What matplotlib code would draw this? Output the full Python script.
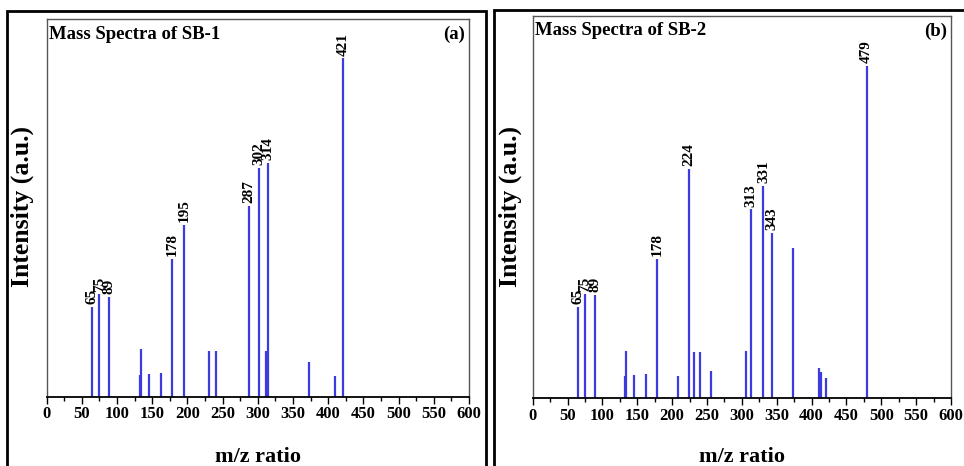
import numpy as np
import matplotlib
matplotlib.use("Agg")
import matplotlib.pyplot as plt
from matplotlib.patches import Rectangle

plt.rcParams['font.family'] = ['Liberation Serif', 'DejaVu Serif']
plt.rcParams['font.weight'] = 'bold'

# SB-1 peaks (m/z, relative intensity)
sb1_mz = [65, 75, 89, 132, 134, 146, 162, 178, 195, 231, 240, 287, 302, 311, 314, 372, 410, 421]
sb1_int = [23.8, 27.1, 26.5, 5.7, 12.5, 6.0, 6.2, 36.4, 45.4, 12.1, 12.0, 50.6, 60.6, 12.2, 62.0, 9.3, 5.5, 89.6]
sb1_labels = [65, 75, 89, 178, 195, 287, 302, 314, 421]

# SB-2 peaks
sb2_mz = [65, 75, 89, 132, 134, 146, 162, 178, 208, 224, 232, 240, 256, 306, 313, 331, 343, 374, 410, 414, 420, 479]
sb2_int = [24.0, 27.2, 27.0, 5.9, 12.5, 6.1, 6.3, 36.4, 5.8, 60.0, 12.2, 12.0, 7.2, 12.3, 49.4, 55.5, 43.2, 39.2, 7.8, 7.0, 5.4, 87.0]
sb2_labels = [65, 75, 89, 178, 224, 313, 331, 343, 479]

xticks = np.arange(0, 601, 50)
line_col = '#3b3be0'

fig = plt.figure(figsize=(9.64, 4.66), dpi=100)

# outer frames around each panel
fig.patches.append(Rectangle((0.0073, -0.05), 0.497, 0.9764 + 0.05, transform=fig.transFigure,
                             fill=False, edgecolor='black', linewidth=2.0))
fig.patches.append(Rectangle((0.5124, -0.05), 0.50, 0.9785 + 0.05, transform=fig.transFigure,
                             fill=False, edgecolor='black', linewidth=2.0))

ax1 = fig.add_axes([0.0484, 0.1487, 0.4381, 0.8105])
ax2 = fig.add_axes([0.5526, 0.1453, 0.4339, 0.8204])


def draw_panel(ax, mz, inten, labels, title, tag, title_y):
    ax.vlines(mz, 0, inten, color=line_col, linewidth=1.6)
    for m, h in zip(mz, inten):
        if m in labels:
            ax.annotate(str(m), (m, h), xytext=(0, 2), textcoords='offset points',
                        rotation=90, ha='center', va='bottom', fontsize=11, fontweight='bold')
    ax.set_xlim(0, 600)
    ax.set_ylim(0, 100)
    ax.set_xticks(xticks)
    ax.set_xticks(np.arange(25, 600, 50), minor=True)
    ax.tick_params(axis='x', which='major', direction='out', length=5, width=1, labelsize=12, pad=2)
    ax.tick_params(axis='x', which='minor', direction='out', length=3, width=1)
    ax.set_yticks([])
    for lbl in ax.get_xticklabels():
        lbl.set_fontweight('bold')
    for s in ['top', 'right', 'left']:
        ax.spines[s].set_color('#555555')
        ax.spines[s].set_linewidth(1.0)
    ax.spines['bottom'].set_color('black')
    ax.spines['bottom'].set_linewidth(1.3)
    ax.text(0.006, title_y, title, transform=ax.transAxes, ha='left', va='center',
            fontsize=13.5, fontweight='bold')
    ax.text(0.99, title_y, tag, transform=ax.transAxes, ha='right', va='center',
            fontsize=13.5, fontweight='bold')


draw_panel(ax1, sb1_mz, sb1_int, sb1_labels, 'Mass Spectra of SB-1', '(a)', 0.960)
draw_panel(ax2, sb2_mz, sb2_int, sb2_labels, 'Mass Spectra of SB-2', '(b)', 0.961)

# axis labels
fig.text(22 / 964, 0.556, 'Intensity (a.u.)', rotation=90, ha='center', va='center',
         fontsize=18.5, fontweight='bold')
fig.text(510 / 964, 0.556, 'Intensity (a.u.)', rotation=90, ha='center', va='center',
         fontsize=18.5, fontweight='bold')
fig.text(258 / 964, 0.02, 'm/z ratio', ha='center', va='center', fontsize=16, fontweight='bold')
fig.text(742 / 964, 0.02, 'm/z ratio', ha='center', va='center', fontsize=16, fontweight='bold')

fig.savefig('out.png', dpi=100)
